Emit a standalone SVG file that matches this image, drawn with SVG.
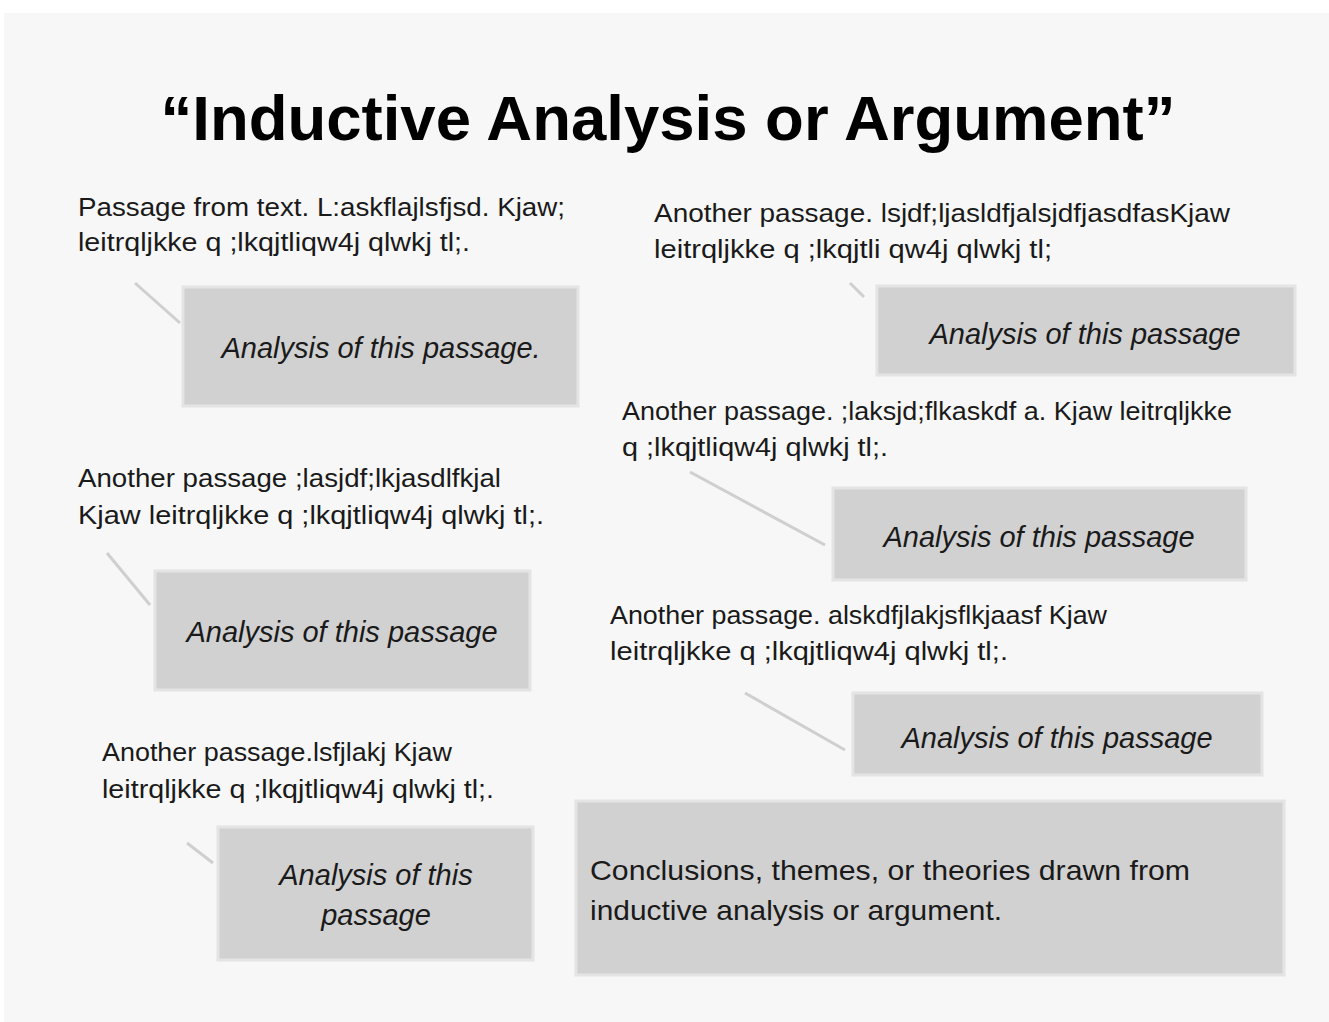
<svg xmlns="http://www.w3.org/2000/svg" width="1329" height="1022" viewBox="0 0 1329 1022">
<style>
.bg{fill:#f7f7f7}
.box{fill:#d1d1d1;stroke:#e4e4e4;stroke-width:3}
.pass{font-family:"Liberation Sans",Arial,sans-serif;font-size:25px;fill:#1a1a1a}
.ana{font-family:"Liberation Sans",Arial,sans-serif;font-size:29px;font-style:italic;fill:#1a1a1a;text-anchor:middle}
.conc{font-family:"Liberation Sans",Arial,sans-serif;font-size:28px;fill:#1a1a1a}
.title{font-family:"Liberation Sans",Arial,sans-serif;font-size:63px;font-weight:bold;fill:#000;text-anchor:middle}
.conn{stroke:#cfcfcf;stroke-width:3;fill:none}
</style>
<rect x="0" y="0" width="1329" height="1022" fill="#ffffff"/>
<rect class="bg" x="4" y="13" width="1325" height="1009"/>
<g id="title"><text class="title" x="668" y="140" textLength="1015" lengthAdjust="spacingAndGlyphs">“Inductive Analysis or Argument”</text></g>
<g id="connectors">
<line class="conn" x1="135" y1="283" x2="180" y2="323"/>
<line class="conn" x1="850" y1="283" x2="864" y2="297"/>
<line class="conn" x1="690" y1="472" x2="825" y2="545"/>
<line class="conn" x1="107" y1="553" x2="150" y2="605"/>
<line class="conn" x1="745" y1="693" x2="845" y2="750"/>
<line class="conn" x1="187" y1="843" x2="213" y2="863"/>
</g>
<g id="passage1"><text class="pass" x="78" y="216" textLength="487" lengthAdjust="spacingAndGlyphs">Passage from text. L:askflajlsfjsd. Kjaw;</text><text class="pass" x="78" y="251" textLength="392" lengthAdjust="spacingAndGlyphs">leitrqljkke q ;lkqjtliqw4j  qlwkj tl;.</text></g>
<g id="analysis1"><rect class="box" x="183" y="287" width="395" height="119"/><text class="ana" x="381" y="358">Analysis of this passage.</text></g>
<g id="passage2"><text class="pass" x="654" y="222" textLength="576" lengthAdjust="spacingAndGlyphs">Another passage.  lsjdf;ljasldfjalsjdfjasdfasKjaw</text><text class="pass" x="654" y="258" textLength="398" lengthAdjust="spacingAndGlyphs">leitrqljkke q ;lkqjtli qw4j  qlwkj tl;</text></g>
<g id="analysis2"><rect class="box" x="877" y="286" width="418" height="89"/><text class="ana" x="1085" y="344">Analysis of this passage</text></g>
<g id="passage3"><text class="pass" x="622" y="420" textLength="610" lengthAdjust="spacingAndGlyphs">Another passage. ;laksjd;flkaskdf a. Kjaw leitrqljkke</text><text class="pass" x="622" y="456" textLength="266" lengthAdjust="spacingAndGlyphs">q ;lkqjtliqw4j  qlwkj tl;.</text></g>
<g id="analysis3"><rect class="box" x="833" y="488" width="413" height="92"/><text class="ana" x="1039" y="547">Analysis of this passage</text></g>
<g id="passage4"><text class="pass" x="78" y="487" textLength="423" lengthAdjust="spacingAndGlyphs">Another passage  ;lasjdf;lkjasdlfkjal</text><text class="pass" x="78" y="524" textLength="466" lengthAdjust="spacingAndGlyphs">Kjaw leitrqljkke q ;lkqjtliqw4j  qlwkj tl;.</text></g>
<g id="analysis4"><rect class="box" x="155" y="571" width="375" height="119"/><text class="ana" x="342" y="642">Analysis of this passage</text></g>
<g id="passage5"><text class="pass" x="610" y="624" textLength="497" lengthAdjust="spacingAndGlyphs">Another passage. alskdfjlakjsflkjaasf Kjaw</text><text class="pass" x="610" y="660" textLength="398" lengthAdjust="spacingAndGlyphs">leitrqljkke q ;lkqjtliqw4j  qlwkj tl;.</text></g>
<g id="analysis5"><rect class="box" x="853" y="693" width="409" height="82"/><text class="ana" x="1057" y="748">Analysis of this passage</text></g>
<g id="passage6"><text class="pass" x="102" y="761" textLength="350" lengthAdjust="spacingAndGlyphs">Another passage.lsfjlakj Kjaw</text><text class="pass" x="102" y="798" textLength="392" lengthAdjust="spacingAndGlyphs">leitrqljkke q ;lkqjtliqw4j  qlwkj tl;.</text></g>
<g id="analysis6"><rect class="box" x="218" y="827" width="315" height="133"/><text class="ana" x="376" y="885">Analysis of this</text><text class="ana" x="376" y="925">passage</text></g>
<g id="conclusion"><rect class="box" x="576" y="801" width="708" height="174"/><text class="conc" x="590" y="880" textLength="600" lengthAdjust="spacingAndGlyphs">Conclusions, themes, or theories drawn from</text><text class="conc" x="590" y="920" textLength="412" lengthAdjust="spacingAndGlyphs">inductive analysis or argument.</text></g>
</svg>
